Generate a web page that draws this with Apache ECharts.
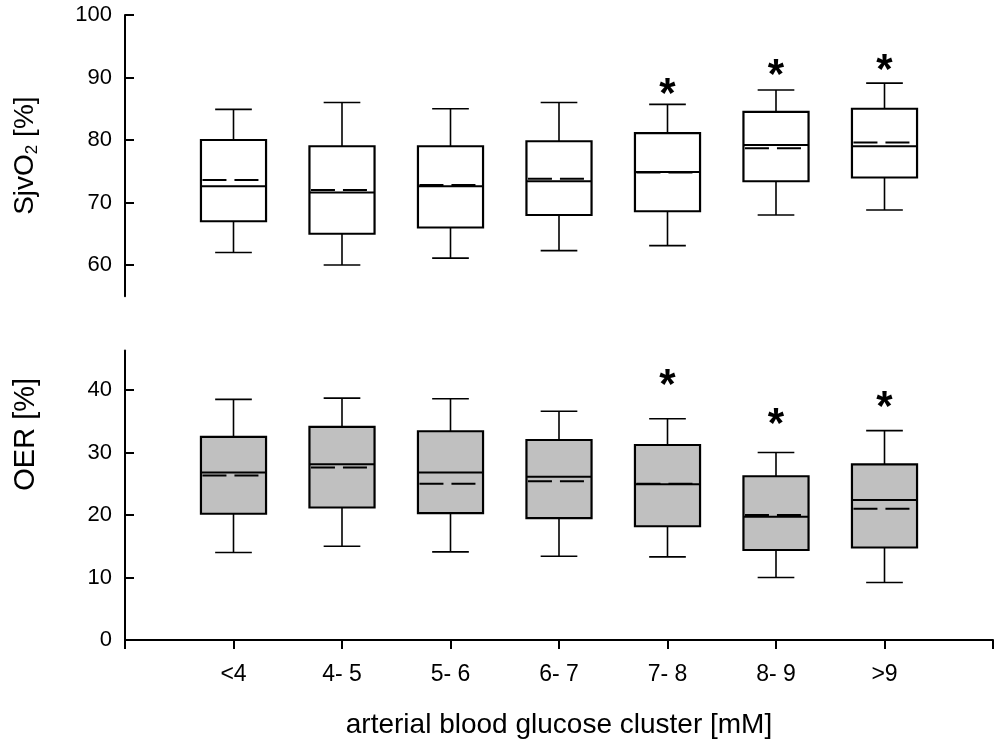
<!DOCTYPE html>
<html>
<head>
<meta charset="utf-8">
<script src="https://cdn.jsdelivr.net/npm/echarts@6/dist/echarts.min.js"></script>
<style>
html,body{margin:0;padding:0;background:#fff;}
#chart{width:1004px;height:748px;}
</style>
</head>
<body>
<div id="chart"></div>
<script>
// ---- data ----
var categories = ['<4', '4- 5', '5- 6', '6- 7', '7- 8', '8- 9', '>9'];

// SjvO2 [%] (upper panel)
var sjvMin  = [62.0, 60.0, 61.1, 62.3, 63.1, 68.0, 68.8];
var sjvQ1   = [67.0, 65.0, 66.0, 68.0, 68.6, 73.4, 74.0];
var sjvMed  = [72.6, 71.6, 72.6, 73.4, 74.9, 79.2, 79.0];
var sjvQ3   = [80.0, 79.0, 79.0, 79.8, 81.1, 84.5, 85.0];
var sjvMax  = [84.9, 86.0, 85.0, 86.0, 85.7, 88.0, 89.1];
var sjvMean = [73.6, 72.0, 72.8, 73.8, 74.8, 78.7, 79.6];
var sjvStar = [null, null, null, null, 88.8, 91.8, 92.6];

// OER [%] (lower panel)
var oerMin  = [14.0, 15.0, 14.1, 13.4, 13.3, 10.0, 9.2];
var oerQ1   = [20.2, 21.2, 20.3, 19.5, 18.2, 14.4, 14.8];
var oerMed  = [26.8, 28.1, 26.8, 26.1, 24.9, 19.7, 22.4];
var oerQ3   = [32.5, 34.1, 33.4, 32.0, 31.2, 26.2, 28.1];
var oerMax  = [38.5, 38.7, 38.6, 36.6, 35.4, 30.0, 33.5];
var oerMean = [26.3, 27.6, 25.0, 25.4, 25.0, 20.0, 21.0];
var oerStar = [null, null, null, null, 42.1, 35.9, 38.6];

var sjvTicks = [60, 70, 80, 90, 100];
var oerTicks = [0, 10, 20, 30, 40];

// ---- build ----
var axisCats = [''].concat(categories).concat(['']);
var FONT = '"Liberation Sans", Arial, Helvetica, sans-serif';

function boxData(mn, q1, md, q3, mx, mean) {
  return categories.map(function (c, i) {
    return [i + 1, mn[i], q1[i], md[i], q3[i], mx[i], mean[i]];
  });
}
function starData(st) {
  var out = [];
  st.forEach(function (v, i) { if (v != null) out.push([i + 1, v]); });
  return out;
}

function makeBoxRenderer(fill) {
  return function (params, api) {
    var x = api.value(0);
    var pMin = api.coord([x, api.value(1)]);
    var pQ1 = api.coord([x, api.value(2)]);
    var pMed = api.coord([x, api.value(3)]);
    var pQ3 = api.coord([x, api.value(4)]);
    var pMax = api.coord([x, api.value(5)]);
    var pMean = api.coord([x, api.value(6)]);
    var band = api.size([1, 0])[0];
    var c = pMed[0];
    var hw = band * 0.3;
    var cw = band * 0.169;
    var wStyle = { stroke: '#000', lineWidth: 1.6 };
    return {
      type: 'group',
      children: [
        { type: 'line', shape: { x1: c, y1: pQ3[1], x2: c, y2: pMax[1] }, style: wStyle },
        { type: 'line', shape: { x1: c - cw, y1: pMax[1], x2: c + cw, y2: pMax[1] }, style: wStyle },
        { type: 'line', shape: { x1: c, y1: pQ1[1], x2: c, y2: pMin[1] }, style: wStyle },
        { type: 'line', shape: { x1: c - cw, y1: pMin[1], x2: c + cw, y2: pMin[1] }, style: wStyle },
        { type: 'rect', shape: { x: c - hw, y: pQ3[1], width: 2 * hw, height: pQ1[1] - pQ3[1] },
          style: { fill: fill, stroke: '#000', lineWidth: 2.2 } },
        { type: 'line', shape: { x1: c - hw, y1: pMed[1], x2: c + hw, y2: pMed[1] },
          style: { stroke: '#000', lineWidth: 2 } },
        { type: 'line', shape: { x1: c - hw + 1.5, y1: pMean[1], x2: c + hw - 7, y2: pMean[1] },
          style: { stroke: '#000', lineWidth: 2, lineDash: [24, 8] } }
      ]
    };
  };
}

function renderStar(params, api) {
  var p = api.coord([api.value(0), api.value(1)]);
  return {
    type: 'text',
    x: p[0], y: p[1] + 10,
    style: {
      text: '*', fontSize: 42, fontWeight: 'bold', fontFamily: FONT,
      fill: '#000', align: 'center', verticalAlign: 'middle'
    }
  };
}

var axisLineStyle = { color: '#000', width: 2 };

var option = {
  animation: false,
  backgroundColor: '#fff',
  grid: [
    { left: 125, right: 11, top: 15, height: 281.25 },
    { left: 125, right: 11, top: 350.6, bottom: 108 }
  ],
  xAxis: [
    { gridIndex: 0, type: 'category', data: axisCats, boundaryGap: false, show: false },
    {
      gridIndex: 1, type: 'category', data: axisCats, boundaryGap: false,
      axisLine: { lineStyle: axisLineStyle },
      axisTick: { show: true, interval: 0, inside: false, length: 9, lineStyle: { color: '#000', width: 2 } },
      axisLabel: { interval: 0, margin: 23, color: '#000', fontSize: 23, fontFamily: FONT },
      splitLine: { show: false },
      name: 'arterial blood glucose cluster [mM]',
      nameLocation: 'middle', nameGap: 71,
      nameTextStyle: { color: '#000', fontSize: 28, fontFamily: FONT }
    }
  ],
  yAxis: [
    {
      gridIndex: 0, type: 'value', min: 55, max: 100,
      axisLine: { show: true, lineStyle: axisLineStyle },
      axisTick: { show: true, inside: true, length: 9, customValues: sjvTicks, lineStyle: { color: '#000', width: 2 } },
      axisLabel: { customValues: sjvTicks, margin: 13, color: '#000', fontSize: 22, fontFamily: FONT },
      splitLine: { show: false },
      name: 'SjvO{s|2} [%]',
      nameLocation: 'middle', nameGap: 84,
      nameTextStyle: {
        color: '#000', fontSize: 28, fontFamily: FONT, lineHeight: 32,
        rich: { s: { fontSize: 17, fontFamily: FONT, color: '#000', lineHeight: 18, verticalAlign: 'bottom' } }
      }
    },
    {
      gridIndex: 1, type: 'value', min: 0, max: 46.3,
      axisLine: { show: true, lineStyle: axisLineStyle },
      axisTick: { show: true, inside: true, length: 9, customValues: oerTicks, lineStyle: { color: '#000', width: 2 } },
      axisLabel: { customValues: oerTicks, margin: 13, color: '#000', fontSize: 22, fontFamily: FONT },
      splitLine: { show: false },
      name: 'OER [%]',
      nameLocation: 'middle', nameGap: 85,
      nameTextStyle: { color: '#000', fontSize: 29, fontFamily: FONT, padding: [0, 0, 0, 122] }
    }
  ],
  series: [
    {
      name: 'SjvO2', type: 'custom', xAxisIndex: 0, yAxisIndex: 0,
      renderItem: makeBoxRenderer('#ffffff'),
      encode: { x: 0, y: [1, 2, 3, 4, 5, 6] },
      data: boxData(sjvMin, sjvQ1, sjvMed, sjvQ3, sjvMax, sjvMean)
    },
    {
      name: 'SjvO2 significance', type: 'custom', xAxisIndex: 0, yAxisIndex: 0,
      renderItem: renderStar, encode: { x: 0, y: 1 },
      data: starData(sjvStar)
    },
    {
      name: 'OER', type: 'custom', xAxisIndex: 1, yAxisIndex: 1,
      renderItem: makeBoxRenderer('#c0c0c0'),
      encode: { x: 0, y: [1, 2, 3, 4, 5, 6] },
      data: boxData(oerMin, oerQ1, oerMed, oerQ3, oerMax, oerMean)
    },
    {
      name: 'OER significance', type: 'custom', xAxisIndex: 1, yAxisIndex: 1,
      renderItem: renderStar, encode: { x: 0, y: 1 },
      data: starData(oerStar)
    }
  ]
};

var chart = echarts.init(document.getElementById('chart'), null, { renderer: 'canvas' });
chart.setOption(option);
</script>
</body>
</html>
